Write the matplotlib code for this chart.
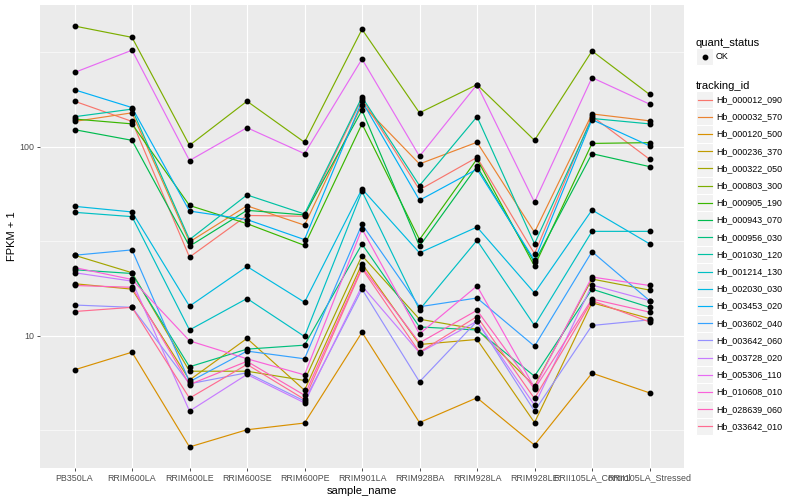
import matplotlib
matplotlib.use('Agg')
import matplotlib.pyplot as plt
import numpy as np
from matplotlib.legend_handler import HandlerBase
from matplotlib.lines import Line2D
from matplotlib.patches import Rectangle
from matplotlib.ticker import FixedLocator, NullFormatter

plt.rcParams['font.family'] = ['Liberation Sans', 'DejaVu Sans']

samples = ['PB350LA', 'RRIM600LA', 'RRIM600LE', 'RRIM600SE', 'RRIM600PE',
           'RRIM901LA', 'RRIM928BA', 'RRIM928LA', 'RRIM928LE',
           'RRII105LA_Control', 'RRII105LA_Stressed']

tracking_ids = ['Hb_000012_090', 'Hb_000032_570', 'Hb_000120_500',
                'Hb_000236_370', 'Hb_000322_050', 'Hb_000803_300',
                'Hb_000905_190', 'Hb_000943_070', 'Hb_000956_030',
                'Hb_001030_120', 'Hb_001214_130', 'Hb_002030_030',
                'Hb_003453_020', 'Hb_003602_040', 'Hb_003642_060',
                'Hb_003728_020', 'Hb_005306_110', 'Hb_010608_010',
                'Hb_028639_060', 'Hb_033642_010']

# ggplot default hue palette for 20 levels
colors = ['#F8766D', '#EA8331', '#D89000', '#C09B00', '#A3A500', '#7CAE00',
          '#39B600', '#00BB4E', '#00BF7D', '#00C1A3', '#00BFC4', '#00BAE0',
          '#00B0F6', '#35A2FF', '#9590FF', '#C77CFF', '#E76BF3', '#FA62DB',
          '#FF62BC', '#FF6C91']

# FPKM + 1, one value per sample (order of `samples`)
hb_000012_090 = [174, 136, 26.0, 43.2, 42.8, 179, 59.1, 87.7, 27.1, 145, 85.8]
hb_000032_570 = [136, 151, 31.3, 48.6, 38.4, 167, 81.0, 105.5, 35.2, 149, 137]
hb_000120_500 = [6.58, 8.16, 2.57, 3.17, 3.44, 10.4, 3.46, 4.68, 2.63, 6.32, 4.97]
hb_000236_370 = [18.8, 17.6, 5.81, 9.65, 5.13, 24.0, 8.96, 9.53, 3.46, 14.9, 12.3]
hb_000322_050 = [26.6, 21.5, 6.47, 6.47, 5.78, 26.5, 12.2, 10.8, 5.4, 19.9, 17.4]
hb_000803_300 = [435, 379, 101.6, 174, 105.5, 418, 151, 213, 108, 321, 189]
hb_000905_190 = [140, 132, 48.8, 39.1, 30.0, 132, 32.2, 86, 23.3, 104, 105]
hb_000943_070 = [123, 108, 29.7, 46.0, 43.5, 156, 29.7, 78.6, 24.4, 91.8, 78.4]
hb_000956_030 = [22.3, 21.3, 6.83, 8.47, 8.89, 30.5, 11.1, 10.7, 6.09, 17.6, 14.1]
hb_001030_120 = [144, 158, 32.2, 55.5, 44.0, 183, 62.2, 144, 30.6, 141, 132]
hb_001214_130 = [44.9, 42.6, 10.7, 15.7, 9.88, 58.0, 13.7, 31.9, 11.3, 35.6, 35.6]
hb_002030_030 = [48.3, 45.1, 14.3, 23.2, 15.0, 59.7, 27.4, 37.5, 16.8, 46.2, 30.6]
hb_003453_020 = [200, 161, 45.6, 41.1, 32.2, 174, 52.0, 76.0, 25.0, 139, 101]
hb_003602_040 = [26.6, 28.4, 5.69, 8.27, 7.53, 38.8, 14.2, 15.8, 8.78, 27.8, 15.3]
hb_003642_060 = [14.5, 14.1, 5.55, 6.35, 4.5, 17.6, 5.69, 11.9, 3.98, 11.3, 12.1]
hb_003728_020 = [21.5, 19.4, 3.98, 6.22, 4.4, 18.3, 8.1, 11.9, 4.28, 18.5, 15.3]
hb_005306_110 = [247, 324, 84.4, 126, 91.8, 291, 88.9, 213, 50.8, 232, 168]
hb_010608_010 = [22.9, 19.8, 9.37, 7.53, 6.19, 36.7, 10.2, 18.3, 5.3, 20.4, 18.4]
hb_028639_060 = [18.4, 18.0, 5.5, 7.3, 4.83, 23.0, 9.15, 13.6, 5.2, 15.6, 13.3]
hb_033642_010 = [13.4, 14.1, 4.66, 7.03, 4.59, 22.6, 8.16, 12.6, 4.64, 15.3, 11.8]

series = [hb_000012_090, hb_000032_570, hb_000120_500, hb_000236_370,
          hb_000322_050, hb_000803_300, hb_000905_190, hb_000943_070,
          hb_000956_030, hb_001030_120, hb_001214_130, hb_002030_030,
          hb_003453_020, hb_003602_040, hb_003642_060, hb_003728_020,
          hb_005306_110, hb_010608_010, hb_028639_060, hb_033642_010]

quant_status = ['OK']


class KeyHandler(HandlerBase):
  """Draws a ggplot-style legend key: grey box with a line or a point."""

  def create_artists(self, legend, orig_handle, xdescent, ydescent, width,
                     height, fontsize, trans):
    x0, y0 = -xdescent, -ydescent
    box = Rectangle((x0, y0), width, height, facecolor='#F2F2F2',
                    edgecolor='white', linewidth=0.8, transform=trans)
    artists = [box]
    if orig_handle.get_linestyle() not in ('None', 'none', ''):
      line = Line2D([x0 + 0.1 * width, x0 + 0.9 * width],
                    [y0 + height / 2, y0 + height / 2],
                    color=orig_handle.get_color(),
                    linewidth=orig_handle.get_linewidth(), transform=trans)
      artists.append(line)
    if orig_handle.get_marker() not in ('None', 'none', '', None):
      pt = Line2D([x0 + width / 2], [y0 + height / 2], linestyle='None',
                  marker=orig_handle.get_marker(),
                  markersize=orig_handle.get_markersize(),
                  color=orig_handle.get_markerfacecolor(), transform=trans)
      artists.append(pt)
    return artists


fig = plt.figure(figsize=(8, 5), dpi=100)
ax = fig.add_axes([40 / 800, 32 / 500, 644 / 800, 463 / 500])
ax.set_facecolor('#EBEBEB')
for spine in ax.spines.values():
  spine.set_visible(False)

xs = np.arange(1, len(samples) + 1)
for vals, col in zip(series, colors):
  ax.plot(xs, vals, color=col, linewidth=0.85, zorder=2)
for vals in series:
  ax.plot(xs, vals, linestyle='None', marker='o', markersize=3.2,
          color='black', zorder=3)

ax.set_yscale('log')
all_vals = np.log10(np.concatenate([np.asarray(v, float) for v in series]))
lo, hi = all_vals.min(), all_vals.max()
pad = 0.05 * (hi - lo)
ax.set_ylim(10 ** (lo - pad), 10 ** (hi + pad))
ax.set_xlim(0.4, len(samples) + 0.6)

ax.yaxis.set_major_locator(FixedLocator([10, 100]))
ax.yaxis.set_minor_locator(FixedLocator([10 ** 0.5, 10 ** 1.5, 10 ** 2.5]))
ax.yaxis.set_minor_formatter(NullFormatter())
ax.set_yticklabels(['10', '100'])
ax.set_xticks(xs)
ax.set_xticklabels(samples)
ax.grid(which='major', color='white', linewidth=0.8)
ax.grid(which='minor', axis='y', color='white', linewidth=0.4)
ax.set_axisbelow(True)
ax.tick_params(which='major', length=2.2, width=0.6, color='#333333',
               labelsize=6.4, labelcolor='#4D4D4D', pad=1.8)
ax.tick_params(which='minor', length=0)

ax.set_xlabel('sample_name', fontsize=8, labelpad=2.5)
ax.set_ylabel('FPKM + 1', fontsize=8, labelpad=2)

# legends, ggplot-like keys of about 17 px
key_kw = dict(loc='upper left', frameon=False, fontsize=6.4,
              title_fontsize=8, handler_map={Line2D: KeyHandler()},
              handlelength=1.95, handleheight=2.6, handletextpad=0.3,
              labelspacing=0, borderpad=0, borderaxespad=0,
              alignment='left')

status_handles = [Line2D([], [], linestyle='None', marker='o',
                         markersize=3.2, color='black')]
fig.legend(status_handles, quant_status, title='quant_status',
           bbox_to_anchor=(696 / 800, 1 - 38 / 500), **key_kw)

track_handles = [Line2D([], [], color=c, linewidth=0.85) for c in colors]
fig.legend(track_handles, tracking_ids, title='tracking_id',
           bbox_to_anchor=(696 / 800, 1 - 81 / 500), **key_kw)

fig.savefig('out.png', dpi=100)
